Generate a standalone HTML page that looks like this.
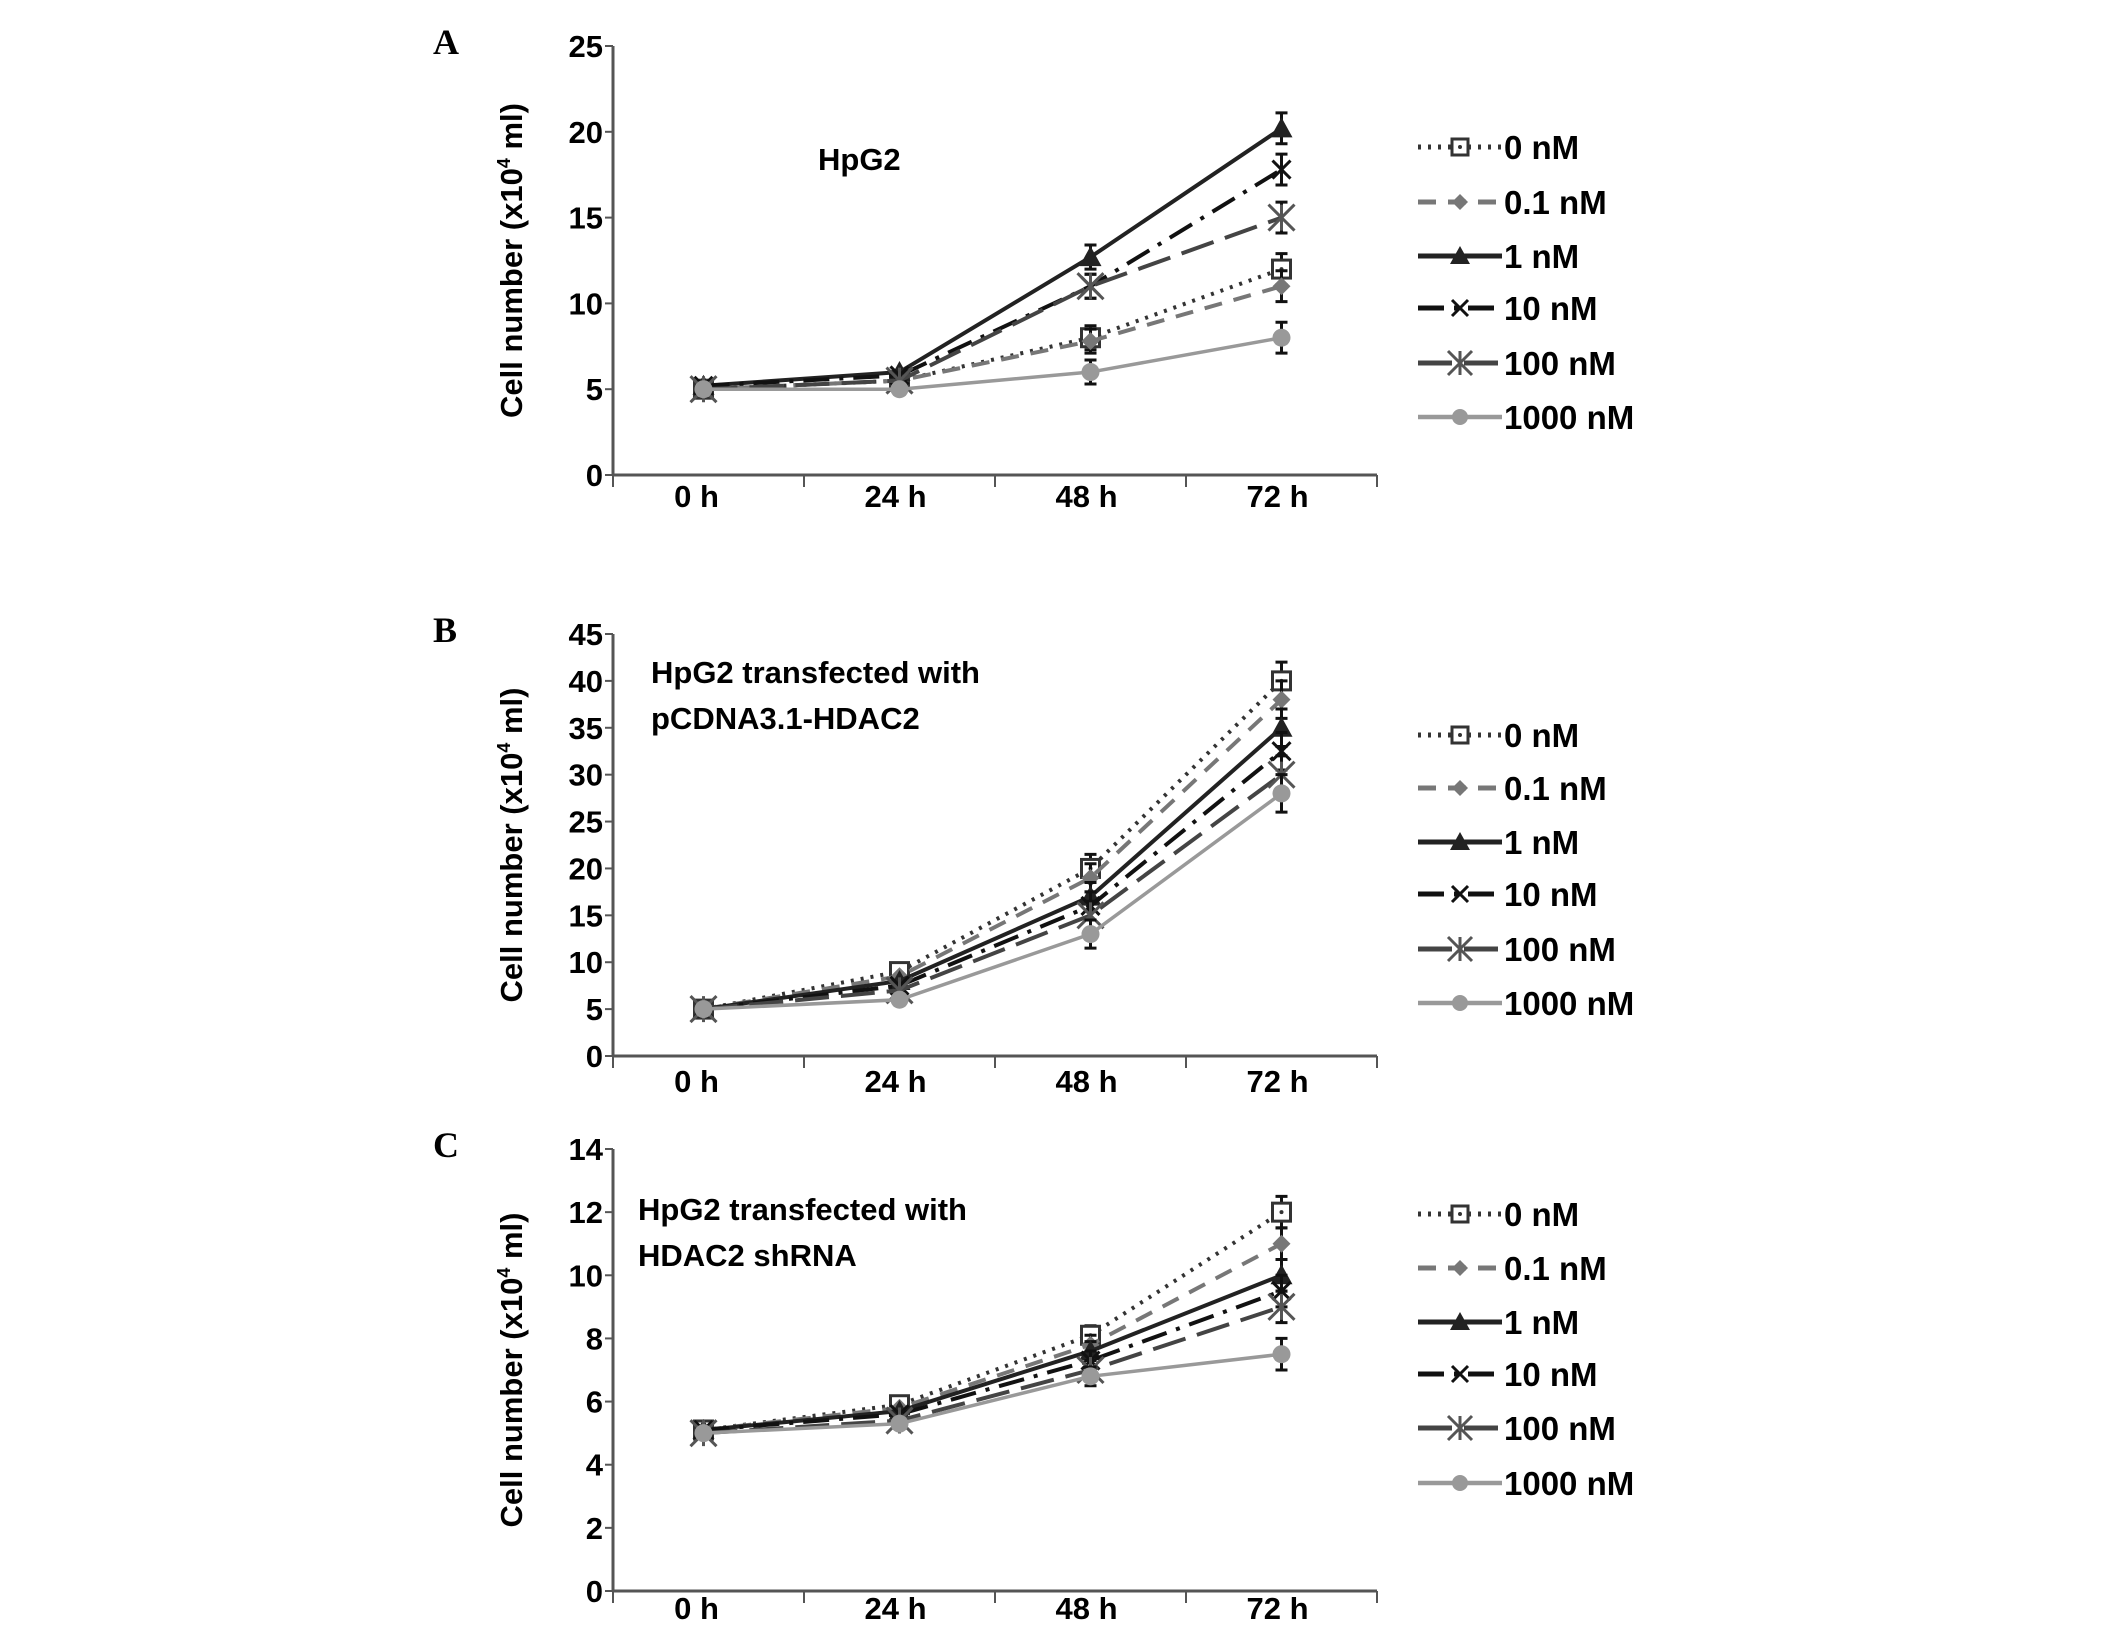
<!DOCTYPE html>
<html><head><meta charset="utf-8"><style>
html,body{margin:0;padding:0;background:#fff;}
svg{display:block;}
text{font-family:"Liberation Sans",sans-serif;font-weight:bold;}
text.serif{font-family:"Liberation Serif",serif;}
</style></head><body>
<svg id="fig" width="2126" height="1627" viewBox="0 0 2126 1627" xmlns="http://www.w3.org/2000/svg"></svg>
<script>
const categories = ["0 h","24 h","48 h","72 h"];
const seriesNames = ["0 nM","0.1 nM","1 nM","10 nM","100 nM","1000 nM"];
// Panel A
const aTicks = [0,5,10,15,20,25];
const a0 = [5,5.5,8,12], a01 = [5,5.5,7.8,11], a1 = [5.2,6,12.7,20.2], a10 = [5.2,5.8,11,17.8], a100 = [5,5.5,11,15], a1000 = [5,5,6,8];
const aErr = [0.2,0.3,0.7,0.9];
// Panel B
const bTicks = [0,5,10,15,20,25,30,35,40,45];
const b0 = [5,9,20,40], b01 = [5,8.5,19,38], b1 = [5,8,17,35], b10 = [5,7.5,16,32.5], b100 = [5,7,15,30], b1000 = [5,6,13,28];
const bErr = [0.4,0.7,1.5,2];
// Panel C
const cTicks = [0,2,4,6,8,10,12,14];
const c0 = [5.1,5.9,8.1,12], c01 = [5.1,5.8,7.8,11], c1 = [5.1,5.7,7.6,10], c10 = [5.1,5.6,7.3,9.5], c100 = [5,5.4,7,9], c1000 = [5,5.3,6.8,7.5];
const cErr = [0.15,0.2,0.3,0.5];

const NS="http://www.w3.org/2000/svg";
const svg=document.getElementById('fig');
function el(tag,attrs,parent){const e=document.createElementNS(NS,tag);for(const k in attrs)e.setAttribute(k,attrs[k]);(parent||svg).appendChild(e);return e;}

const styles=[
 {stroke:"#333",dash:"3 7",w:4,marker:"square",fill:"#333"},
 {stroke:"#777",dash:"18 12",w:4,marker:"diamond",fill:"#777"},
 {stroke:"#222",dash:"",w:4,marker:"triangle",fill:"#222"},
 {stroke:"#111",dash:"26 10 4 10",w:4,marker:"x",fill:"#111"},
 {stroke:"#444",dash:"34 12",w:4,marker:"star",fill:"#555"},
 {stroke:"#999",dash:"",w:3.5,marker:"circle",fill:"#999"}
];
function marker(g,type,x,y,st,s){
 s=s||9;
 if(type==="square"){el('rect',{x:x-s,y:y-s,width:2*s,height:2*s,fill:"#fff",stroke:st.fill,'stroke-width':3},g);el('circle',{cx:x,cy:y,r:2,fill:st.fill},g);}
 else if(type==="diamond"){el('polygon',{points:`${x},${y-s} ${x+s},${y} ${x},${y+s} ${x-s},${y}`,fill:st.fill},g);}
 else if(type==="triangle"){el('polygon',{points:`${x},${y-s-2} ${x+s+2},${y+s} ${x-s-2},${y+s}`,fill:st.fill},g);}
 else if(type==="x"){el('path',{d:`M${x-s} ${y-s}L${x+s} ${y+s}M${x+s} ${y-s}L${x-s} ${y+s}`,stroke:st.fill,'stroke-width':3},g);}
 else if(type==="star"){el('path',{d:`M${x-s-4} ${y-s-4}L${x+s+4} ${y+s+4}M${x+s+4} ${y-s-4}L${x-s-4} ${y+s+4}M${x} ${y-s-4}L${x} ${y+s+4}`,stroke:st.fill,'stroke-width':3},g);}
 else if(type==="circle"){el('circle',{cx:x,cy:y,r:s,fill:st.fill},g);}
}

function panel(cfg){
 const g=el('g',{});
 
 
 const x0=613,x1=1377,yTop=cfg.yTop,yBot=cfg.yBot,max=cfg.ticks[cfg.ticks.length-1];
 const Y=v=>yBot-(v/max)*(yBot-yTop);
 const cw=(x1-x0)/4; const X=i=>x0+cw*(i+0.5)+ (i===0?-5:0);
 const lt=el('text',{x:433,y:cfg.yTop+8,'font-size':36,'class':'serif'},g);lt.textContent=cfg.letter;
 
 const ya=el('line',{x1:x0,y1:yTop,x2:x0,y2:yBot,stroke:"#555",'stroke-width':3},g);
 
 const xa=el('line',{x1:x0,y1:yBot,x2:x1,y2:yBot,stroke:"#555",'stroke-width':3},g);
 
 cfg.ticks.forEach(t=>{
  el('line',{x1:x0-8,y1:Y(t),x2:x0,y2:Y(t),stroke:"#555",'stroke-width':2},g);
  const tx=el('text',{x:x0-10,y:Y(t)+11,'font-size':31,'text-anchor':'end'},g);tx.textContent=t;
  
 });
 for(let i=0;i<=4;i++)el('line',{x1:x0+cw*i,y1:yBot,x2:x0+cw*i,y2:yBot+12,stroke:"#555",'stroke-width':2},g);
 categories.forEach((c,i)=>{const tx=el('text',{x:x0+cw*(i+0.5)-(i===0?8:0)-4,y:yBot+cfg.labOff,'font-size':31,'text-anchor':'middle'},g);tx.textContent=c;
  });
 const cy=(yTop+yBot)/2;
 const yt=el('text',{x:0,y:0,'font-size':31,'text-anchor':'middle',transform:`translate(522 ${cy}) rotate(-90)`},g);
 yt.innerHTML='Cell number (x10<tspan font-size="18" dy="-12">4</tspan><tspan dy="12"> ml)</tspan>';
 
 cfg.note.forEach((s,k)=>{const tx=el('text',{x:cfg.noteX,y:cfg.noteY+k*46,'font-size':31,'text-anchor':cfg.noteAnchor||'start'},g);tx.textContent=s;
  });
 cfg.series.forEach((vals,si)=>{
  const st=styles[si];
  const sg=el('g',{},g);
  
  
  el('polyline',{points:vals.map((v,i)=>X(i)+','+Y(v)).join(' '),fill:'none',stroke:st.stroke,'stroke-width':st.w,'stroke-dasharray':st.dash},sg);
  vals.forEach((v,i)=>{
   const e=cfg.err[i];
   if(i>=2){el('path',{d:`M${X(i)} ${Y(v+e)}V${Y(v-e)}M${X(i)-6} ${Y(v+e)}H${X(i)+6}M${X(i)-6} ${Y(v-e)}H${X(i)+6}`,stroke:'#111','stroke-width':3},sg);}
   marker(sg,st.marker,X(i),Y(v),st);
  });
 });
 const lg=el('g',{},g);
 
 seriesNames.forEach((n,si)=>{
  const st=styles[si];const y=cfg.legY[si];
  const eg=el('g',{},lg);
  
  el('line',{x1:1418,y1:y,x2:1502,y2:y,stroke:st.stroke,'stroke-width':st.w+1,'stroke-dasharray':st.dash},eg);
  marker(eg,st.marker,1460,y,st,8);
  const tx=el('text',{x:1504,y:y+12,'font-size':33},eg);tx.textContent=n;
 });
}
panel({name:'panel-a',letter:'A',yTop:46,yBot:475,labOff:32,ticks:aTicks,series:[a0,a01,a1,a10,a100,a1000],err:aErr,
 note:['HpG2'],noteX:818,noteY:170,legY:[147,202,256,308,363,417]});
panel({name:'panel-b',letter:'B',yTop:634,yBot:1056,labOff:36,ticks:bTicks,series:[b0,b01,b1,b10,b100,b1000],err:bErr,
 note:['HpG2 transfected with','pCDNA3.1-HDAC2'],noteX:651,noteY:683,legY:[735,788,842,894,949,1003]});
panel({name:'panel-c',letter:'C',yTop:1149,yBot:1591,labOff:28,ticks:cTicks,series:[c0,c01,c1,c10,c100,c1000],err:cErr,
 note:['HpG2 transfected with','HDAC2 shRNA'],noteX:638,noteY:1220,legY:[1214,1268,1322,1374,1428,1483]});
</script>
</body></html>
